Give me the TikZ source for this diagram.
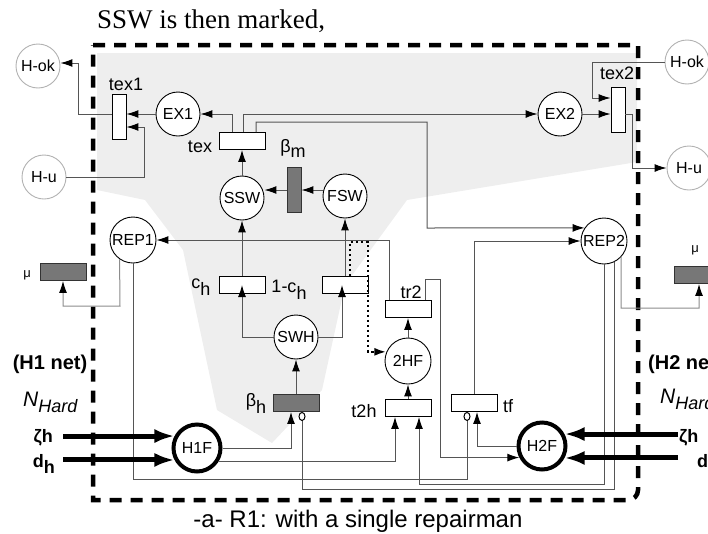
\documentclass[tikz,border=0pt]{standalone}
\usepackage{fontspec}
\setmainfont{Liberation Sans}
\newfontfamily\noteserif{Liberation Serif}
\usetikzlibrary{arrows.meta}
\definecolor{netgray}{HTML}{EEEEEE}
\definecolor{netline}{HTML}{555555}
\definecolor{netdark}{HTML}{777777}

\begin{document}
\begin{tikzpicture}[x=1pt, y=-1pt, every node/.style={font=\fontsize{16}{18}\selectfont},
    place/.style={draw, circle, fill=white, line width=0.9pt, minimum size=44pt, inner sep=0pt},
    hplace/.style={place, draw=black!30},
    fplace/.style={place, line width=4pt, minimum size=47pt},
    trans/.style={draw, rectangle, fill=white, line width=0.9pt, minimum width=46pt, minimum height=17pt, inner sep=0pt},
    vtrans/.style={trans, minimum width=14pt, minimum height=45pt},
    timed/.style={fill=netdark, draw=black!80},
    arc/.style={draw=netline, line width=1pt, -{Latex[length=12pt,width=8pt,black]}},
    inh/.style={draw=netline, line width=1pt, -{Circle[length=9pt,width=7pt,fill=white,black]}},
    fat/.style={line width=5pt, -{Latex[length=20pt,width=14pt]}},
    lbl/.style={font=\fontsize{18}{20}\selectfont, anchor=base, inner sep=0pt}]
  \useasboundingbox (0,0) rectangle (708,533);
  \clip (0,0) rectangle (708,533);

  \fill[netgray] (97,53) -- (637,53) -- (637,162) -- (407,200) -- (345,285) -- (322,390) -- (272,443)
    -- (217,410) -- (183,250) -- (145,200) -- (97,190) -- cycle;
  \draw[line width=4.5pt, dash pattern=on 12pt off 9pt] (93,45) -- (638,45) -- (638,490)
    to[out=-90,in=0] (628,500) -- (93,500) -- cycle;

  \node[hplace] (hokL) at (38,66) {H-ok};
  \node[hplace] (huL) at (44,177) {H-u};
  \node[place] (ex1) at (178,114) {EX1};
  \node[place] (ex2) at (560,114) {EX2};
  \node[hplace] (hokR) at (687,62) {H-ok};
  \node[hplace] (huR) at (689,168) {H-u};
  \node[place] (ssw) at (242,198) {SSW};
  \node[place] (fsw) at (345,196) {FSW};
  \node[place, minimum size=46pt] (rep1) at (133,240) {REP1};
  \node[place, minimum size=46pt] (rep2) at (604,241) {REP2};
  \node[place] (swh) at (296,337) {SWH};
  \node[place, minimum size=46pt] (hf2) at (408,361) {2HF};
  \node[fplace] (h1f) at (197,448) {H1F};
  \node[fplace] (h2f) at (542,446) {H2F};

  \node[vtrans] (tex1) at (119,117) {};
  \node[trans] (tex) at (242,141) {};
  \node[vtrans, timed] (bm) at (294,190) {};
  \node[vtrans] (tex2) at (618,110) {};
  \node[trans, timed] (mu1) at (63,272) {};
  \node[trans, timed] (mu2) at (697,275) {};
  \node[trans] (ch) at (242,285) {};
  \node[trans] (c1h) at (345,285) {};
  \node[trans, timed] (bh) at (296,403) {};
  \node[trans] (tr2) at (408,309) {};
  \node[trans] (t2h) at (408,408) {};
  \node[trans] (tf) at (474,403) {};

  \node[lbl] (ltex1) at (126,90) {tex1};
  \node[lbl] (ltex) at (200,152) {tex};
  \node[lbl] (ltex2) at (617,79) {tex2};
  \node[lbl] (lbm) at (293,152) {β\raisebox{-5pt}{m}};
  \node[lbl] (lch) at (201,288) {c\raisebox{-7pt}{h}};
  \node[lbl] (lc1h) at (289,292) {1-c\raisebox{-7pt}{h}};
  \node[lbl] (lbh) at (256,406) {β\raisebox{-7pt}{h}};
  \node[lbl] (ltr2) at (411,298) {tr2};
  \node[lbl] (lt2h) at (364,417) {t2h};
  \node[lbl] (ltf) at (508,412) {tf};
  \node[lbl, font=\fontsize{13}{15}\selectfont] (lmu1) at (27,277) {μ};
  \node[lbl, font=\fontsize{13}{15}\selectfont] (lmu2) at (695,252) {μ};

  \node[anchor=base, font=\bfseries\fontsize{20}{22}\selectfont] (h1net) at (50,369) {(H1 net)};
  \node[anchor=base west, inner sep=0pt, font=\itshape\fontsize{21}{23}\selectfont] (nhardL) at (23,406) {N\raisebox{-6pt}{\fontsize{18}{20}\selectfont Hard}};
  \node[anchor=base east, inner sep=0pt, outer xsep=10pt, font=\bfseries\fontsize{18}{20}\selectfont] (zhL) at (63,442) {ζh};
  \node[anchor=base east, inner sep=0pt, font=\bfseries\fontsize{18}{20}\selectfont] (dhL) at (55,467) {d\raisebox{-6pt}{h}};
  \node[anchor=base west, inner sep=0pt, font=\bfseries\fontsize{20}{22}\selectfont] (h2net) at (648,369) {(H2 net)};
  \node[anchor=base west, inner sep=0pt, font=\itshape\fontsize{21}{23}\selectfont] (nhardR) at (660,403) {N\raisebox{-6pt}{\fontsize{18}{20}\selectfont Hard}};
  \node[anchor=base west, inner sep=0pt, outer xsep=1pt, font=\bfseries\fontsize{18}{20}\selectfont] (zhR) at (678,442) {ζh};
  \node[anchor=base west, inner sep=0pt, font=\bfseries\fontsize{18}{20}\selectfont] (dhR) at (697,467) {d\raisebox{-6pt}{h}};

  \node[anchor=base west, inner sep=0pt, font=\noteserif\fontsize{27}{30}\selectfont] (note) at (97,28) {SSW is then marked,};
  \node[anchor=base, inner sep=0pt, font=\fontsize{24}{28}\selectfont] (caption) at (358,527) {-a- R1: with a single repairman};

  \draw[arc] (ex1) -- (ex1 -| tex1.east);
  \draw[arc] (huL) -- (144,177) |- ([yshift=-10pt]tex1.east);
  \draw[arc] ([yshift=3pt]tex1.west) -| (78,63) -- (hokL.east |- 0,63);
  \draw[arc] ([xshift=-10pt]tex.north) |- (ex1);
  \draw[arc] ([xshift=1pt]tex.north) |- (ex2);
  \draw[arc] ([xshift=14pt]tex.north) |- (427,122) -- (427,228) -- (rep2.146);
  \draw[arc] (ex2) -- (ex2 -| tex2.west);
  \draw[arc] (hokR) -| (592,98) -- (tex2.west |- 0,98);
  \draw[arc] (tex2.east |- 0,114) -| (632,168) -- (huR);

  \draw[arc] (ssw) -- (tex);
  \draw[arc] (bm) -- (bm -| ssw.east);
  \draw[arc] (bm -| fsw.west) -- (bm.east);
  \draw[arc] (ch) -- (ssw);
  \draw[arc] (c1h) -- (fsw);
  \draw[arc] (swh) -| (ch.center);
  \draw[arc] (swh) -| ([xshift=-3pt]c1h.center);
  \draw[arc] (bh) -- (swh);

  \draw[arc] ([xshift=-19pt]tr2.north) |- (rep1);
  \draw[arc] (tf.north) |- (rep2);
  \draw[arc, draw=black!45] (rep1.235) -- (120,306) -| (mu1.south);
  \draw[arc, draw=black!45] (rep2.-43) -- (621,308) -| ([xshift=2pt]mu2.south);
  \draw[arc] (t2h) -- (hf2);
  \draw[arc] (hf2) -- (tr2);
  \draw[arc] ([xshift=17pt]tr2.north) |- (440,279) |- (h2f.207);
  \draw[arc] (h2f) -| ([xshift=3pt]tf.south);
  \draw[arc] (h1f) -| ([xshift=-5pt]bh.south);
  \draw[arc] (h1f.-31) -| ([xshift=-13pt]t2h.south);
  \draw[arc] (rep2.south) |- (419,484) -- ([xshift=11pt]t2h.south);
  \draw[inh] (rep2.-64) |- (302,489) -- ([xshift=6pt]bh.south);
  \draw[inh] (rep1.south) |- (467,479) -- ([xshift=-7pt]tf.south);
  \draw[arc, draw=black, line width=2.2pt, dash pattern=on 2.5pt off 2.5pt] ([xshift=5pt]c1h.north) |- (368,242) |- (hf2.157);

  \draw[fat] (zhL.east |- h1f.152) -- (h1f.152);
  \draw[fat] (zhL.east |- h1f.208) -- (h1f.208);
  \draw[fat] (zhR.west |- h2f.28) -- (h2f.28);
  \draw[fat] (zhR.west |- h2f.-28) -- (h2f.-28);
\end{tikzpicture}
\end{document}
